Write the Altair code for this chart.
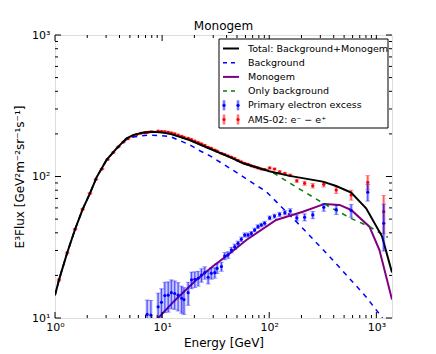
import altair as alt
import pandas as pd

# ---------------- data ----------------
total_E = [1.00, 1.09, 1.30, 1.54, 1.81, 2.12, 2.45, 3.03, 3.76, 4.66, 5.37, 6.5, 8.2, 10.0, 12.0, 18.0,
           25.9, 43.0, 57.0, 100.0, 155.0, 316.0, 422.0, 582.0, 803.0, 1132.0, 1400.0]
total_F = [14.5, 18.6, 28.9, 42.4, 58.6, 76.0, 99.0, 131.0, 158.0, 186.0, 196.0, 204.0, 207.0, 205.0, 200.0, 181.0,
           161.0, 137.0, 124.0, 109.0, 101.0, 92.0, 85.7, 76.9, 59.6, 37.6, 21.0]

bkg_E = [1.00, 1.09, 1.30, 1.54, 1.81, 2.12, 2.45, 3.03, 3.76, 4.66, 5.37, 6.5, 7.7, 9.5, 11.8, 18.0,
         22.5, 28.0, 44.0, 94.0, 192.0, 392.0, 803.0, 1140.0]
bkg_F = [14.5, 18.6, 28.9, 42.4, 58.6, 76.0, 99.0, 131.0, 157.0, 183.0, 190.0, 194.0, 196.0, 195.0, 192.0, 168.0,
         152.0, 140.0, 113.0, 78.0, 45.4, 25.7, 14.1, 10.0]

mono_E = [9.2, 13.0, 20.9, 30.0, 42.8, 61.2, 116.0, 206.0, 328.0, 453.0, 582.0, 862.0, 1069.0, 1400.0]
mono_F = [10.0, 13.2, 18.6, 23.3, 28.6, 35.6, 49.3, 56.4, 64.0, 63.0, 58.0, 44.2, 30.2, 13.5]

only_E = [1.00, 1.09, 1.30, 1.54, 1.81, 2.12, 2.45, 3.03, 3.76, 4.66, 5.37, 6.5, 8.2, 10.0, 12.0, 18.0,
          25.9, 43.0, 60.0, 101.0, 200.0, 365.0, 600.0, 862.0, 1277.0]
only_F = [14.5, 18.6, 28.9, 42.4, 58.6, 76.0, 99.0, 131.0, 158.0, 186.0, 196.0, 204.0, 207.0, 205.0, 200.0, 181.0,
          161.0, 137.0, 122.0, 110.0, 80.0, 61.0, 50.0, 44.2, 37.2]

excess_E = [7.25, 7.85, 9.18, 9.86, 10.6, 11.4, 12.2, 13.1, 14.1, 15.2, 16.0, 17.5, 18.8, 20.2, 21.7, 23.3,
            25.0, 26.9, 28.8, 31.0, 32.6, 35.8, 38.4, 41.2, 44.3, 47.6, 51.1, 54.9, 59.0, 63.4, 68.1, 73.1,
            78.5, 84.4, 90.6, 101.0, 112.0, 125.0, 140.0, 157.0, 181.0, 214.0, 255.0, 323.0, 422.0, 582.0,
            831.0, 1172.0]
excess_F = [10.6, 10.5, 12.0, 12.9, 14.4, 14.5, 15.1, 14.9, 14.5, 13.8, 13.5, 15.1, 18.6, 18.8, 19.1, 20.1,
            20.9, 19.4, 20.7, 20.9, 22.4, 23.1, 27.4, 27.9, 30.2, 31.9, 33.7, 36.0, 38.6, 38.6, 39.6, 41.9,
            44.2, 45.4, 46.7, 51.0, 52.5, 54.0, 55.5, 57.0, 51.0, 51.5, 53.5, 60.6, 58.3, 57.5,
            77.5, 46.7]
excess_err = [2.8, 2.8, 3.0, 3.2, 3.5, 3.5, 3.5, 3.4, 3.3, 3.0, 2.9, 2.8, 2.5, 2.4, 2.3, 2.2,
              2.1, 2.0, 1.9, 1.8, 1.8, 1.7, 1.6, 1.5, 1.4, 1.4, 1.3, 1.3, 1.3, 1.3, 1.3, 1.3,
              1.4, 1.4, 1.5, 1.6, 1.7, 1.8, 2.0, 2.2, 2.5, 3.0, 3.2, 3.8, 4.5, 6.0,
              10.5, 17.0]

ams_E = [1.09, 1.30, 1.54, 1.81, 2.12, 2.41, 2.75, 3.1, 3.5, 3.9, 4.35, 4.8, 5.3, 5.8, 6.35, 6.9] + excess_E
ams_F = [18.6, 28.9, 42.4, 58.6, 76.0, 95.5, 113.0, 132.0, 148.0, 162.0, 175.0, 185.0, 193.0, 198.0, 202.0, 204.0,
         205.0, 207.0, 209.0, 208.0, 207.0, 205.0, 203.0, 200.0, 196.0, 192.0, 189.0, 186.0, 182.0, 178.0, 174.0, 170.0,
         166.0, 161.0, 158.0, 154.0, 151.0, 146.0, 143.0, 140.0, 137.0, 134.0, 130.0, 127.0, 124.0, 122.0, 119.0, 117.0,
         115.0, 113.0, 112.0, 115.0, 113.0, 108.0, 105.0, 102.0, 93.3, 89.6, 86.0, 88.0, 80.3, 74.0,
         91.0, 56.4]
ams_err = [0.3, 0.4, 0.5, 0.6, 0.8, 0.9, 1.0, 1.1, 1.2, 1.3, 1.4, 1.5, 1.6, 1.7, 1.8, 1.9] + excess_err

title_text = "Monogem"
legend_labels = ["Total: Background+Monogem", "Background", "Monogem", "Only background",
                 "Primary electron excess", "AMS-02: e⁻ − e⁺"]

x_major = [1, 10, 100, 1000]
x_minor = [m * d for d in (1, 10, 100) for m in range(2, 10)]
y_major = [10, 100, 1000]
y_minor = [m * d for d in (10, 100) for m in range(2, 10)]

# ---------------- chart ----------------
W, H = 337, 283
FONT = "DejaVu Sans"

xs = alt.Scale(type="log", domain=[1, 1400])
ys = alt.Scale(type="log", domain=[10, 1000])

x_lab = "datum.value == 1 ? '10⁰' : datum.value == 10 ? '10¹' : datum.value == 100 ? '10²' : '10³'"
y_lab = "datum.value == 10 ? '10¹' : datum.value == 100 ? '10²' : '10³'"

X = alt.X("E:Q", scale=xs,
          axis=alt.Axis(values=x_major, labelExpr=x_lab, ticks=False, domain=False, grid=False,
                        title="Energy [GeV]", labelPadding=3, titlePadding=5, labelFontSize=11,
                        titleFontSize=12, titleFontWeight="normal", labelFont=FONT, titleFont=FONT,
                        labelColor="black", titleColor="black", labelFlush=False))
Y = alt.Y("F:Q", scale=ys,
          axis=alt.Axis(values=y_major, labelExpr=y_lab, ticks=False, domain=False, grid=False,
                        title="E³Flux [GeV²m⁻²sr⁻¹s⁻¹]", labelPadding=5, titlePadding=5, labelFontSize=11,
                        titleFontSize=12, titleFontWeight="normal", labelFont=FONT, titleFont=FONT,
                        labelColor="black", titleColor="black", labelFlush=False))


def curve(E, F, color, width, dash=None):
    df = pd.DataFrame({"E": E, "F": F})
    kw = dict(color=color, strokeWidth=width, clip=True)
    if dash:
        kw["strokeDash"] = dash
    return alt.Chart(df).mark_line(**kw).encode(x=X, y=Y, order="E:Q")


def errpts(E, F, err, color):
    df = pd.DataFrame({"E": E, "F": F,
                       "lo": [f - e for f, e in zip(F, err)],
                       "hi": [f + e for f, e in zip(F, err)]})
    base = alt.Chart(df)
    wide = base.mark_rule(color=color, strokeWidth=3, opacity=0.3, clip=True).encode(
        x=X, y=alt.Y("lo:Q", scale=ys), y2="hi:Q")
    thin = base.mark_rule(color=color, strokeWidth=1, opacity=0.6, clip=True).encode(
        x=X, y=alt.Y("lo:Q", scale=ys), y2="hi:Q")
    cap_lo = base.mark_tick(color=color, orient="horizontal", size=5, thickness=1, opacity=0.35,
                            clip=True).encode(x=X, y=alt.Y("lo:Q", scale=ys))
    cap_hi = base.mark_tick(color=color, orient="horizontal", size=5, thickness=1, opacity=0.35,
                            clip=True).encode(x=X, y=alt.Y("hi:Q", scale=ys))
    pts = base.mark_point(color=color, filled=True, size=10, opacity=1, clip=True).encode(x=X, y=Y)
    return [wide, thin, cap_lo, cap_hi, pts]


layers = []
layers += errpts(ams_E, ams_F, ams_err, "#ff0000")
layers += [
    curve(bkg_E, bkg_F, "#0000ff", 1.5, [5, 5]),
    curve(mono_E, mono_F, "#800080", 2),
    curve(only_E, only_F, "#008000", 1.5, [5, 5]),
    curve(total_E, total_F, "black", 2),
]
layers += errpts(excess_E, excess_F, excess_err, "#0000ff")

# inward ticks on all four sides
def ticks_x(vals, length):
    df = pd.DataFrame({"E": vals})
    b = alt.Chart(df).mark_rule(color="black", strokeWidth=1)
    return [b.encode(x=alt.X("E:Q", scale=xs), y=alt.value(H), y2=alt.value(H - length)),
            b.encode(x=alt.X("E:Q", scale=xs), y=alt.value(0), y2=alt.value(length))]


def ticks_y(vals, length):
    df = pd.DataFrame({"F": vals})
    b = alt.Chart(df).mark_rule(color="black", strokeWidth=1)
    return [b.encode(y=alt.Y("F:Q", scale=ys), x=alt.value(0), x2=alt.value(length)),
            b.encode(y=alt.Y("F:Q", scale=ys), x=alt.value(W), x2=alt.value(W - length))]


layers += ticks_x(x_major, 6) + ticks_x(x_minor, 3) + ticks_y(y_major, 6) + ticks_y(y_minor, 3)

# legend box
one = pd.DataFrame({"k": [0]})
LX0, LX1, LY0, LY1 = 164, 333, 4, 93
layers.append(alt.Chart(one).mark_rect(fill="white", stroke="black", strokeWidth=1).encode(
    x=alt.value(LX0), x2=alt.value(LX1), y=alt.value(LY0), y2=alt.value(LY1)))

row_y = [13.5 + 14.2 * i for i in range(6)]
styles = [("black", 2, None), ("#0000ff", 1.5, [4, 4]), ("#800080", 2, None), ("#008000", 1.5, [4, 4])]
for i, (col, w, dash) in enumerate(styles):
    kw = dict(color=col, strokeWidth=w)
    if dash:
        kw["strokeDash"] = dash
    layers.append(alt.Chart(one).mark_rule(**kw).encode(
        x=alt.value(168), x2=alt.value(184), y=alt.value(row_y[i])))
for i, col in ((4, "#0000ff"), (5, "#ff0000")):
    for sx in (169, 183):
        layers.append(alt.Chart(one).mark_rule(color=col, strokeWidth=3, opacity=0.3).encode(
            x=alt.value(sx), y=alt.value(row_y[i] - 5), y2=alt.value(row_y[i] + 5)))
        layers.append(alt.Chart(one).mark_rule(color=col, strokeWidth=1, opacity=0.7).encode(
            x=alt.value(sx), y=alt.value(row_y[i] - 5), y2=alt.value(row_y[i] + 5)))
        layers.append(alt.Chart(one).mark_point(color=col, filled=True, size=10, opacity=1).encode(
            x=alt.value(sx), y=alt.value(row_y[i])))
for i, lab in enumerate(legend_labels):
    layers.append(alt.Chart(pd.DataFrame({"t": [lab]})).mark_text(
        align="left", baseline="middle", font=FONT, fontSize=9.5, color="black").encode(
        x=alt.value(193), y=alt.value(row_y[i]), text="t:N"))

# title as text above the frame
layers.append(alt.Chart(pd.DataFrame({"t": [title_text]})).mark_text(
    align="center", baseline="alphabetic", font=FONT, fontSize=12, color="black").encode(
    x=alt.value(W / 2), y=alt.value(-5), text="t:N"))

chart = alt.layer(*layers).properties(
    width=W, height=H,
    autosize=alt.AutoSizeParams(type="none"),
    padding={"left": 47, "top": 27, "right": 30, "bottom": 38},
).configure_view(stroke="black", strokeWidth=1).configure(background="white")

chart.save("out.html", embed_options={"renderer": "svg", "actions": False})
